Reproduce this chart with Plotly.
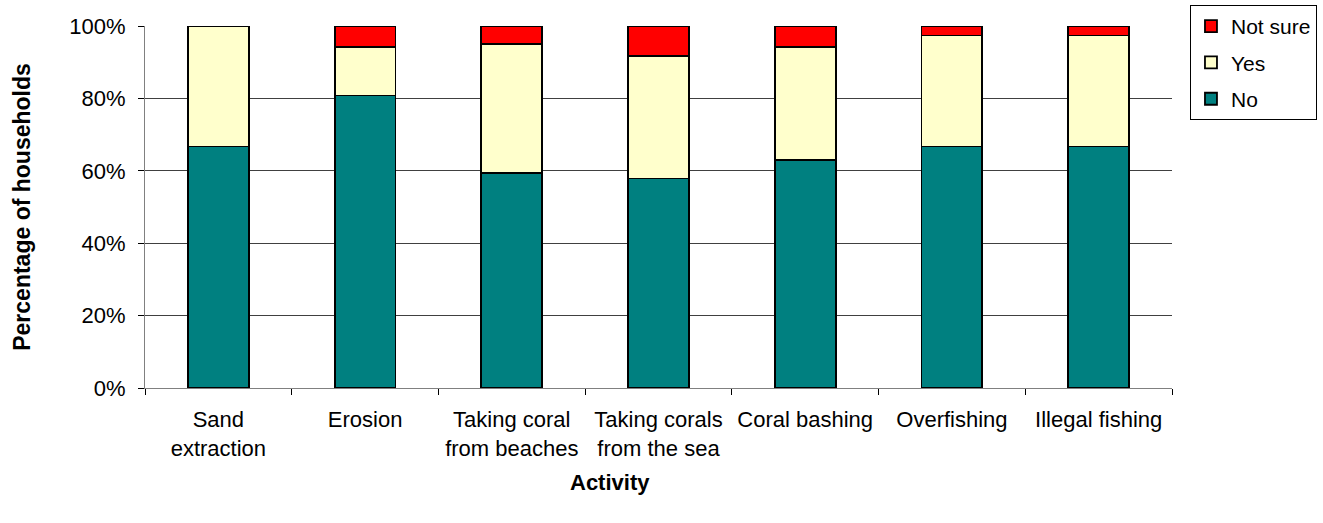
import plotly.graph_objects as go

# Household responses by activity (percent of households)
activities = [
    "Sand<br>extraction",
    "Erosion",
    "Taking coral<br>from beaches",
    "Taking corals<br>from the sea",
    "Coral bashing",
    "Overfishing",
    "Illegal fishing",
]
no_pct = [66.7, 80.8, 59.3, 57.9, 62.9, 66.7, 66.7]
yes_pct = [33.3, 13.5, 35.7, 33.9, 31.3, 30.7, 30.7]
not_sure_pct = [0.0, 5.7, 5.0, 8.2, 5.8, 2.6, 2.6]

y_ticks = [0, 20, 40, 60, 80, 100]
y_tick_labels = ["0%", "20%", "40%", "60%", "80%", "100%"]

FONT = "Liberation Sans, Arial, sans-serif"

# (name, values, fill colour, legend rank)
series = [
    ("No", no_pct, "#008080", 3),
    ("Yes", yes_pct, "#FFFFCC", 2),
    ("Not sure", not_sure_pct, "#FF0000", 1),
]

fig = go.Figure()
for name, vals, color, rank in series:
    fig.add_trace(go.Bar(
        x=activities,
        y=vals,
        name=name,
        legendgroup=name,
        legendrank=rank,
        marker=dict(color=color, line=dict(color="black", width=1.8)),
    ))

fig.update_layout(
    width=1323,
    height=523,
    barmode="stack",
    bargap=0.585,
    plot_bgcolor="white",
    paper_bgcolor="white",
    margin=dict(l=145, r=151, t=26, b=135, autoexpand=False),
    font=dict(family=FONT, size=22, color="black"),
    showlegend=True,
    legend=dict(
        x=1.0175, y=1.058, xanchor="left", yanchor="top",
        traceorder="grouped",
        tracegroupgap=6,
        bordercolor="black", borderwidth=1,
        font=dict(family=FONT, size=21),
        itemwidth=30,
    ),
    xaxis=dict(
        showgrid=False,
        showline=True, linecolor="#808080", linewidth=1,
        ticks="outside", tickson="boundaries", ticklen=6, tickcolor="#000000",
        ticklabelstandoff=12,
        tickfont=dict(family=FONT, size=22),
    ),
    yaxis=dict(
        range=[0, 100],
        tickmode="array",
        tickvals=y_ticks,
        ticktext=y_tick_labels,
        showgrid=True, gridcolor="#404040", gridwidth=1,
        showline=True, linecolor="#808080", linewidth=1,
        ticks="outside", ticklen=6, tickcolor="#000000",
        ticklabelstandoff=8,
        tickfont=dict(family=FONT, size=22),
        zeroline=False,
        title=dict(text="<b>Percentage of households</b>",
                   font=dict(family=FONT, size=23), standoff=32),
    ),
    annotations=[
        dict(text="<b>Activity</b>", xref="paper", yref="paper",
             x=0.453, y=-0.26, xanchor="center", yanchor="middle",
             showarrow=False, font=dict(family=FONT, size=22)),
    ],
)

fig.write_html("out.html")
